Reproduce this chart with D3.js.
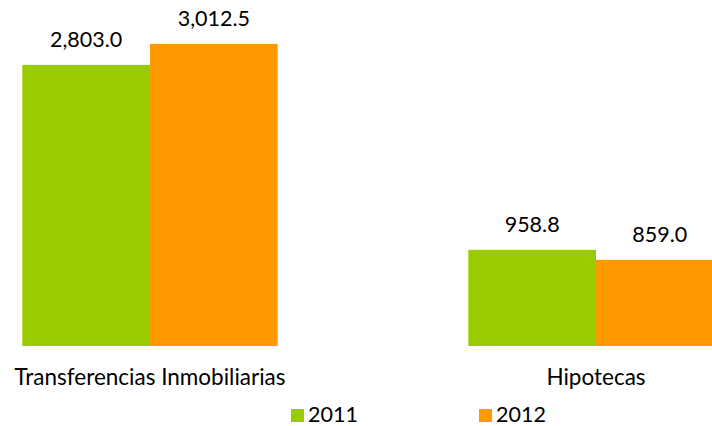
<!DOCTYPE html>
<html lang="es">
    <head>
        <meta charset="utf-8">
        <title>Transferencias e Hipotecas 2011-2012</title>
        <script src="https://d3js.org/d3.v7.min.js"></script>
        <style>
            body {
                margin: 0;
                background: white;
            }
            text {
                font-family: Lato, "Open Sans", sans-serif;
                fill: #000;
            }
        </style>
    </head>
    <body>
        <script type="text/javascript">

            var categories = ["Transferencias Inmobiliarias", "Hipotecas"];
            var series = ["2011", "2012"];
            var values2011 = [2803.0, 958.8];
            var values2012 = [3012.5, 859.0];
            var colors = ["#99cc00", "#ff9900"];

            var width = 712,
                height = 426;
            var baseline = 346;

            var svg = d3.select("body")
                        .append("svg")
                        .attr("width", width)
                        .attr("height", height);

            // groups: centre of first at 150, second at 596
            var x0 = d3.scaleBand()
                        .domain(categories)
                        .range([-73, 819])
                        .paddingInner(0.4274)
                        .paddingOuter(0.2137);

            var x1 = d3.scaleBand()
                        .domain(series)
                        .range([0, x0.bandwidth()]);

            var y = d3.scaleLinear()
                        .domain([0, 3450])
                        .range([baseline, 0]);

            var fmt = d3.format(",.1f");

            var rows = categories.map(function(c, i) {
                return { cat: c, vals: [values2011[i], values2012[i]] };
            });

            var groups = svg.selectAll("g.grp")
                            .data(rows)
                            .enter()
                            .append("g")
                            .attr("class", "grp")
                            .attr("transform", d => `translate(${x0(d.cat)},0)`);

            var items = groups.selectAll("g.item")
                            .data(d => d.vals.map((v, j) => ({ s: series[j], v: v, c: colors[j] })))
                            .enter()
                            .append("g")
                            .attr("class", "item");

            items.append("rect")
                .attr("x", d => x1(d.s))
                .attr("y", d => y(d.v))
                .attr("width", x1.bandwidth())
                .attr("height", d => baseline - y(d.v))
                .attr("fill", d => d.c);

            items.append("text")
                .attr("x", d => x1(d.s) + x1.bandwidth() / 2)
                .attr("y", d => y(d.v) - 17.5)
                .attr("text-anchor", "middle")
                .attr("font-size", 21.5)
                .text(d => fmt(d.v));

            // category labels
            svg.selectAll("text.cat")
                .data(categories)
                .enter()
                .append("text")
                .attr("class", "cat")
                .attr("x", d => x0(d) + x0.bandwidth() / 2)
                .attr("y", 385)
                .attr("text-anchor", "middle")
                .attr("font-size", 22.5)
                .text(d => d);

            // legend
            var legendX = [291, 479];
            var legend = svg.selectAll("g.legend")
                            .data(series)
                            .enter()
                            .append("g")
                            .attr("class", "legend")
                            .attr("transform", (d, i) => `translate(${legendX[i]},409)`);

            legend.append("rect")
                .attr("width", 13)
                .attr("height", 13)
                .attr("fill", (d, i) => colors[i]);

            legend.append("text")
                .attr("x", 17)
                .attr("y", 12.7)
                .attr("font-size", 21.5)
                .text(d => d);

        </script>
    </body>
</html>
